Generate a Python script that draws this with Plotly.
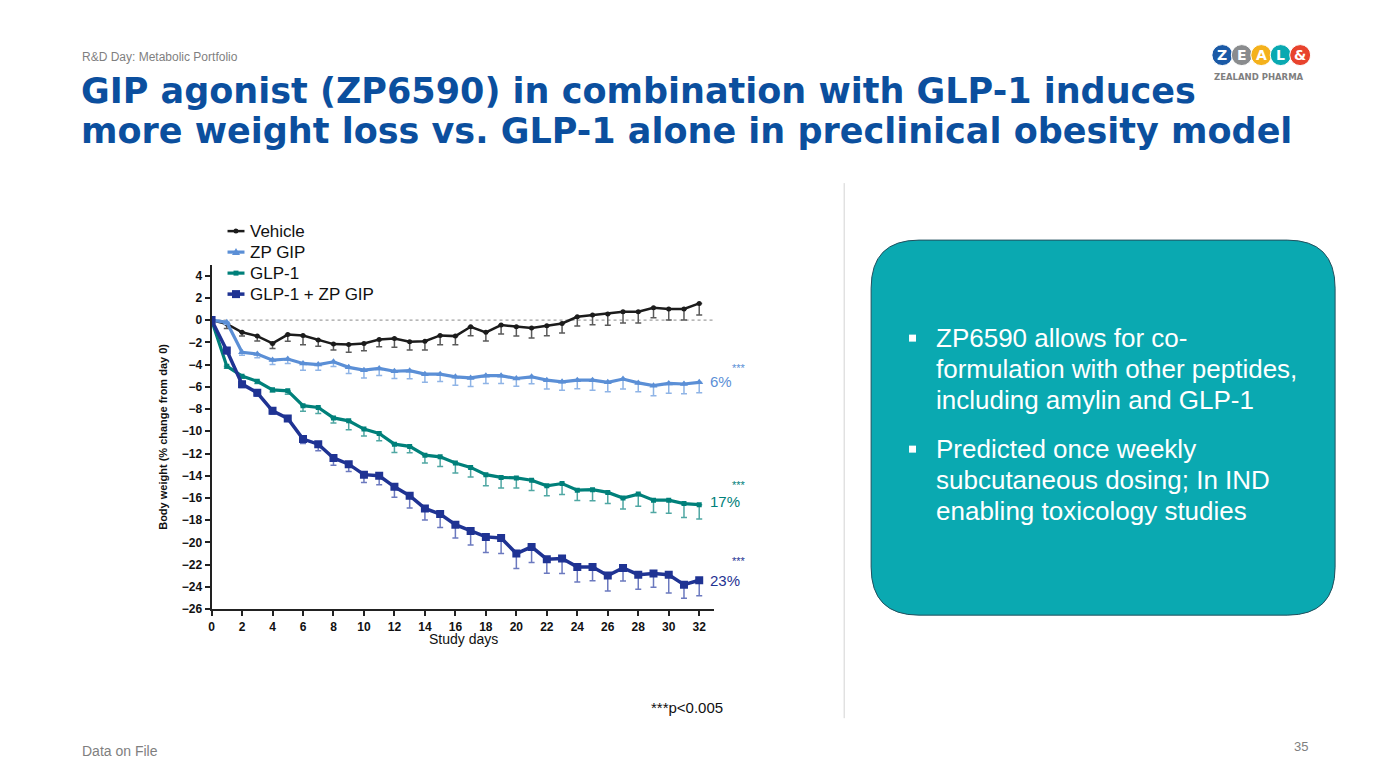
import plotly.graph_objects as go

# page body has an 8px margin; the figure is sized to fit inside the 1387x780 window
OFF = 8
YS = 0.9907  # observed vertical scale of the photographed page
W, H = 1387 - 2 * OFF, 780 - 2 * OFF

days = list(range(0, 33))

vehicle = [0, -0.35, -1.1, -1.44, -2.1, -1.3, -1.38, -1.8, -2.16, -2.2, -2.1, -1.74, -1.65, -1.95, -1.9, -1.38,
           -1.44, -0.6, -1.1, -0.45, -0.6, -0.7, -0.5, -0.3, 0.3, 0.45, 0.54, 0.75, 0.75, 1.1, 1.0, 1.0, 1.5]
vehicle_err = [0, 0.4, 0.33, 0.45, 0.45, 0.6, 0.84, 0.55, 0.54, 0.7, 0.66, 0.66, 0.8, 0.75, 0.8, 0.84,
               0.78, 0.8, 0.78, 0.8, 0.84, 0.9, 0.9, 0.87, 0.84, 0.87, 1.0, 1.0, 1.0, 0.9, 1.0, 1.0, 1.05]

zp_gip = [0, -0.2, -2.9, -3.06, -3.6, -3.5, -3.9, -4.0, -3.75, -4.25, -4.5, -4.35, -4.6, -4.55, -4.86, -4.86,
          -5.1, -5.2, -5.0, -5.0, -5.25, -5.1, -5.4, -5.55, -5.4, -5.4, -5.6, -5.3, -5.65, -5.9, -5.7, -5.75, -5.6]
zp_gip_err = [0, 0.2, 0.27, 0.33, 0.4, 0.4, 0.6, 0.5, 0.42, 0.55, 0.7, 0.63, 0.66, 0.72, 0.72, 0.66,
              0.75, 0.78, 0.7, 0.7, 0.7, 0.63, 0.8, 0.75, 0.78, 0.9, 0.84, 0.9, 0.8, 0.9, 0.87, 0.87, 0.93]

glp1 = [0, -4.14, -5.04, -5.5, -6.27, -6.36, -7.7, -7.86, -8.8, -9.06, -9.8, -10.2, -11.16, -11.36, -12.15, -12.3,
        -12.85, -13.25, -13.9, -14.15, -14.2, -14.4, -14.9, -14.7, -15.3, -15.25, -15.5, -16.0, -15.65, -16.2, -16.2, -16.5, -16.6]
glp1_err = [0, 0.2, 0.2, 0.2, 0.2, 0.3, 0.5, 0.55, 0.45, 0.8, 0.63, 0.66, 0.75, 0.57, 0.7, 0.87,
            0.9, 0.87, 1.0, 0.96, 0.9, 0.93, 0.9, 0.99, 0.93, 1.0, 1.0, 1.0, 1.1, 1.1, 1.17, 1.26, 1.3]

combo = [0, -2.73, -5.76, -6.54, -8.16, -8.85, -10.7, -11.16, -12.4, -12.96, -13.9, -14.0, -15.0, -15.8, -16.94, -17.45,
         -18.4, -18.98, -19.5, -19.6, -21.0, -20.4, -21.5, -21.45, -22.2, -22.2, -22.97, -22.3, -22.9, -22.8, -22.9, -23.8, -23.4]
combo_err = [0, 0.3, 0.3, 0.3, 0.3, 0.2, 0.4, 0.6, 0.65, 0.65, 0.7, 0.8, 0.93, 1.1, 1.05, 1.2,
             1.2, 1.25, 1.4, 1.4, 1.35, 1.4, 1.26, 1.35, 1.35, 1.25, 1.4, 1.17, 1.3, 1.23, 1.65, 1.23, 1.4]

series_names = ["Vehicle", "ZP GIP", "GLP-1", "GLP-1 + ZP GIP"]
y_ticks = list(range(-26, 5, 2))
x_ticks = list(range(0, 33, 2))

bullets = [["ZP6590 allows for co-", "formulation with other peptides,", "including amylin and GLP-1"],
           ["Predicted once weekly", "subcutaneous dosing; In IND", "enabling toxicology studies"]]


def px(x):
    return (x - OFF) / W


def py(y):
    return 1 - (y / YS - OFF) / H


PAD = 3  # annotation inner padding for left-anchored texts

C_VEH, C_GIP, C_GLP, C_COMBO = "#1c1c1c", "#5b8fd6", "#00807a", "#1f3393"
E_VEH, E_GIP, E_GLP, E_COMBO = "#5a5a5a", "#8fb4e6", "#4fa7a3", "#6b79bf"

fig = go.Figure()

specs = [
    (vehicle, vehicle_err, C_VEH, E_VEH, "circle", 5, 2.5),
    (zp_gip, zp_gip_err, C_GIP, E_GIP, "triangle-up", 7, 3.2),
    (glp1, glp1_err, C_GLP, E_GLP, "square", 5, 3.2),
    (combo, combo_err, C_COMBO, E_COMBO, "square", 8, 3.5),
]
for name, (vals, errs, col, ecol, sym, ms, lw) in zip(series_names, specs):
    fig.add_trace(go.Scatter(
        x=days, y=vals, name=name, mode="lines+markers",
        line=dict(color=col, width=lw),
        marker=dict(color=col, symbol=sym, size=ms),
        error_y=dict(type="data", symmetric=False, array=[0] * len(errs), arrayminus=errs,
                     color=ecol, thickness=1.5, width=3),
        showlegend=False,
    ))

fig.update_layout(
    width=W, height=H,
    margin=dict(l=0, r=0, t=0, b=0),
    paper_bgcolor="white", plot_bgcolor="white",
    font=dict(family="Liberation Sans, Arial, sans-serif", color="#000"),
    xaxis=dict(domain=[px(209), px(713)], range=[0, 33], tickvals=x_ticks, ticks="outside",
               ticklen=5, tickwidth=1.5, tickcolor="#222", showline=True, linecolor="#222", linewidth=2,
               showgrid=False, zeroline=False,
               tickfont=dict(size=12, weight="bold", color="#111")),
    yaxis=dict(domain=[py(609), py(264.4)], range=[-26, 5], tickvals=y_ticks, ticks="outside",
               ticklen=5, tickwidth=1.5, tickcolor="#222", showline=True, linecolor="#222", linewidth=2,
               showgrid=False, zeroline=False,
               tickfont=dict(size=12, weight="bold", color="#111")),
)

shapes = []
# dotted zero line
shapes.append(dict(type="line", xref="x", yref="y", x0=0, x1=33, y0=0, y1=0,
                   line=dict(color="#888", width=1, dash="dot"), layer="below"))
# separator
shapes.append(dict(type="line", xref="paper", yref="paper", x0=px(843), x1=px(843), y0=py(183), y1=py(718),
                   line=dict(color="#d3d3d3", width=1)))
# rounded box
x0, x1, y0, y1, r = 870, 1335, 240, 615, 48
path = (f"M {px(x0 + r)} {py(y0)} L {px(x1 - r)} {py(y0)} Q {px(x1)} {py(y0)} {px(x1)} {py(y0 + r)} "
        f"L {px(x1)} {py(y1 - r)} Q {px(x1)} {py(y1)} {px(x1 - r)} {py(y1)} "
        f"L {px(x0 + r)} {py(y1)} Q {px(x0)} {py(y1)} {px(x0)} {py(y1 - r)} "
        f"L {px(x0)} {py(y0 + r)} Q {px(x0)} {py(y0)} {px(x0 + r)} {py(y0)} Z")
shapes.append(dict(type="path", xref="paper", yref="paper", path=path,
                   fillcolor="#0aa9b1", line=dict(color="#23505e", width=1)))

annotations = []

# legend (manual)
leg_y = [231, 252, 273, 294]
for i, (name, (vals, errs, col, ecol, sym, ms, lw)) in enumerate(zip(series_names, specs)):
    yy = leg_y[i]
    shapes.append(dict(type="line", xref="paper", yref="paper", x0=px(225), x1=px(242), y0=py(yy), y1=py(yy),
                       line=dict(color=col, width=lw)))
    cx = 233.5
    if sym == "circle":
        shapes.append(dict(type="circle", xref="paper", yref="paper", x0=px(cx - 2.5), x1=px(cx + 2.5),
                           y0=py(yy + 2.5), y1=py(yy - 2.5), fillcolor=col, line=dict(width=0)))
    elif sym == "triangle-up":
        shapes.append(dict(type="path", xref="paper", yref="paper",
                           path=f"M {px(cx - 4)} {py(yy + 3)} L {px(cx + 4)} {py(yy + 3)} L {px(cx)} {py(yy - 4)} Z",
                           fillcolor=col, line=dict(width=0)))
    else:
        s = ms / 2
        shapes.append(dict(type="rect", xref="paper", yref="paper", x0=px(cx - s), x1=px(cx + s),
                           y0=py(yy + s), y1=py(yy - s), fillcolor=col, line=dict(width=0)))
    annotations.append(dict(xref="paper", yref="paper", x=px(249 - PAD), y=py(yy), text=name, showarrow=False,
                            xanchor="left", yanchor="middle", font=dict(size=17, color="#111")))

# axis titles
annotations.append(dict(xref="paper", yref="paper", x=px(461), y=py(639), text="Study days", showarrow=False,
                        xanchor="center", yanchor="middle", font=dict(size=14, color="#111")))
annotations.append(dict(xref="paper", yref="paper", x=px(160), y=py(437), text="Body weight (% change from day 0)",
                        showarrow=False, textangle=-90, xanchor="center", yanchor="middle",
                        font=dict(size=11, color="#111", weight="bold")))

# end labels
for txt, col, ys, yp in [("6%", C_GIP, 368, 381), ("17%", C_GLP, 485, 501), ("23%", C_COMBO, 561, 580)]:
    annotations.append(dict(xref="paper", yref="paper", x=px(738), y=py(ys), text="***", showarrow=False,
                            xanchor="center", yanchor="middle", font=dict(size=11, color=col)))
    annotations.append(dict(xref="paper", yref="paper", x=px(710 - PAD), y=py(yp), text=txt, showarrow=False,
                            xanchor="left", yanchor="middle", font=dict(size=15, color=col)))

annotations.append(dict(xref="paper", yref="paper", x=px(685), y=py(707), text="***p<0.005", showarrow=False,
                        xanchor="center", yanchor="middle", font=dict(size=15, color="#111")))

# header texts
annotations.append(dict(xref="paper", yref="paper", x=px(80 - PAD), y=py(57), text="R&amp;D Day: Metabolic Portfolio",
                        showarrow=False, xanchor="left", yanchor="middle", font=dict(size=12, color="#7f7f7f")))
title_lines = ["GIP agonist (ZP6590) in combination with GLP-1 induces",
               "more weight loss vs. GLP-1 alone in preclinical obesity model"]
for i, t in enumerate(title_lines):
    annotations.append(dict(xref="paper", yref="paper", x=px(79 - PAD), y=py(91 + 40 * i), text=t, showarrow=False,
                            xanchor="left", yanchor="middle",
                            font=dict(family="DejaVu Sans", size=35, color="#0b4f9e", weight="bold")))

annotations.append(dict(xref="paper", yref="paper", x=px(80 - PAD), y=py(751), text="Data on File", showarrow=False,
                        xanchor="left", yanchor="middle", font=dict(size=14, color="#7f7f7f")))
annotations.append(dict(xref="paper", yref="paper", x=px(1301), y=py(746), text="35", showarrow=False,
                        xanchor="center", yanchor="middle", font=dict(size=13, color="#7f7f7f")))

# bullets in box
line_y = [[338, 369, 400], [449, 480, 511]]
for b, ys in zip(bullets, line_y):
    shapes.append(dict(type="rect", xref="paper", yref="paper", x0=px(908), x1=px(915), y0=py(ys[0] + 3.5),
                       y1=py(ys[0] - 3.5), fillcolor="white", line=dict(width=0)))
    for t, yy in zip(b, ys):
        annotations.append(dict(xref="paper", yref="paper", x=px(936 - PAD), y=py(yy), text=t, showarrow=False,
                                xanchor="left", yanchor="middle", font=dict(size=26, color="white")))

# logo
logo_cols = ["#1b5aa6", "#8a8c8e", "#f4b11c", "#0aa9b1", "#e8432d"]
logo_chars = ["Z", "E", "A", "L", "&amp;"]
for i, (c, ch) in enumerate(zip(logo_cols, logo_chars)):
    cx = 1222 + 19.5 * i
    shapes.append(dict(type="circle", xref="paper", yref="paper", x0=px(cx - 10.5), x1=px(cx + 10.5),
                       y0=py(55 + 10.5), y1=py(55 - 10.5), fillcolor=c, line=dict(color="white", width=1)))
    annotations.append(dict(xref="paper", yref="paper", x=px(cx), y=py(55), text=ch, showarrow=False,
                            xanchor="center", yanchor="middle",
                            font=dict(size=14, color="white", weight="bold", family="DejaVu Sans")))
annotations.append(dict(xref="paper", yref="paper", x=px(1259), y=py(77), text="ZEALAND PHARMA", showarrow=False,
                        xanchor="center", yanchor="middle",
                        font=dict(size=8.5, color="#7f7f7f", weight="bold", family="DejaVu Sans")))

fig.update_layout(shapes=shapes, annotations=annotations)
fig.write_html("out.html")
